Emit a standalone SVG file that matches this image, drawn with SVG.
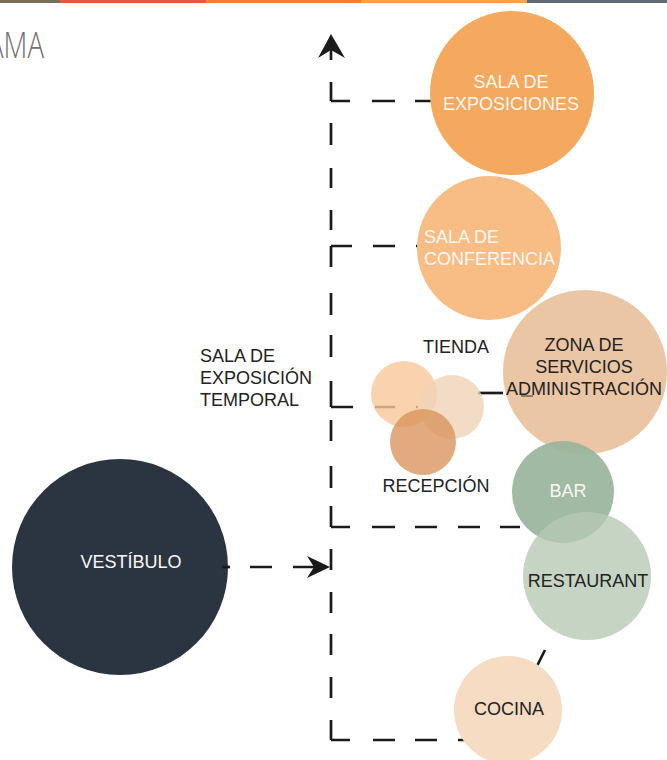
<svg xmlns="http://www.w3.org/2000/svg" width="667" height="760" viewBox="0 0 667 760">
<style>
  .lbl { font-family: "Liberation Sans", Arial, sans-serif; font-size: 18px; }
  .w { fill: #fbf7f2; }
  .d { fill: #222222; }
  .mid { text-anchor: middle; }
  .ln { fill: none; stroke: #1b1b1b; stroke-width: 2.7; stroke-linecap: butt; }
  .head { fill: #1b1b1b; }
</style>
<rect width="667" height="760" fill="#ffffff"/>
<g id="topbar">
  <rect x="0" y="0" width="60" height="3" fill="#7a6e58"/>
  <rect x="60" y="0" width="146" height="3" fill="#e8563f"/>
  <rect x="206" y="0" width="155" height="3" fill="#f07f3c"/>
  <rect x="361" y="0" width="166" height="3" fill="#f5a24c"/>
  <rect x="527" y="0" width="140" height="3" fill="#5f6b73"/>
</g>
<text x="-13" y="58" font-family="'Open Sans', 'Liberation Sans', sans-serif" font-weight="300" font-size="37" fill="#707070" textLength="57" lengthAdjust="spacingAndGlyphs">AMA</text>

<g id="connectors">
  <path class="ln" d="M331,82V101 M331,123V145 M331,168V188 M331,210V230 M331,246V267 M331,293V315 M331,335V357 M331,381V407 M331,420V441 M331,466V488 M331,506V527 M331,549V570 M331,592V613 M331,634V655 M331,677V698 M331,720V740"/>
  <path class="ln" d="M331,101H350 M372,101H395 M415,101H432"/>
  <path class="ln" d="M331,246H352 M373,246H395 M416,246H418"/>
  <path class="ln" d="M331,407H353 M375,407H395 M416,407H418"/>
  <path class="ln" d="M478,393H503"/>
  <path class="ln" d="M331,527H350 M372,527H395 M415,527H437 M458,527H480 M500,527H520"/>
  <path class="ln" d="M331,740H350 M373,740H395 M415,740H437 M458,740H480"/>
  <path class="ln" d="M250,567H272 M293,567H315"/>
  <path class="head" d="M330,567 L307,556 L314,567 L307,578 Z"/>
  <path class="ln" d="M331,50V60"/>
  <path class="head" d="M331,34 L345,58 L331,50 L318,58 Z"/>
  <path class="ln" d="M545,650L536,668"/>
</g>

<g id="sala-exposiciones">
  <circle cx="512" cy="93" r="82" fill="#f4a95e"/>
  <text class="lbl w mid" x="511" y="88" font-size="17">SALA DE</text>
  <text class="lbl w mid" x="511" y="110" font-size="17">EXPOSICIONES</text>
</g>
<g id="sala-conferencia">
  <circle cx="489" cy="248" r="72" fill="#f7bd85"/>
  <text class="lbl w" x="424" y="243">SALA DE</text>
  <text class="lbl w" x="424" y="265">CONFERENCIA</text>
</g>
<g id="zona-servicios">
  <circle cx="585" cy="372" r="82" fill="#e8c19c" fill-opacity="0.92"/>
  <path d="M521,396H533" stroke="#8c7c6c" stroke-width="2" fill="none"/>
  <text class="lbl d mid" x="584" y="351">ZONA DE</text>
  <text class="lbl d mid" x="584" y="373">SERVICIOS</text>
  <text class="lbl d mid" x="584" y="395">ADMINISTRACIÓN</text>
</g>
<g id="sala-exposicion-temporal">
  <circle cx="404" cy="394" r="33" fill="#f7c89a" fill-opacity="0.8"/>
  <text class="lbl d" x="200" y="362">SALA DE</text>
  <text class="lbl d" x="200" y="384">EXPOSICIÓN</text>
  <text class="lbl d" x="200" y="406">TEMPORAL</text>
</g>
<g id="tienda">
  <circle cx="452" cy="407" r="32" fill="#efd3b6" fill-opacity="0.8"/>
  <text class="lbl d mid" x="456" y="353">TIENDA</text>
</g>
<g id="recepcion">
  <circle cx="423" cy="442" r="33" fill="#d8935b" fill-opacity="0.78"/>
  <text class="lbl d mid" x="436" y="492">RECEPCIÓN</text>
</g>
<g id="bar">
  <circle cx="563" cy="492" r="51" fill="#98b49b" fill-opacity="0.92"/>
  <text class="lbl w mid" x="568" y="497">BAR</text>
</g>
<g id="restaurant">
  <circle cx="587" cy="576" r="64" fill="#b6c8b3" fill-opacity="0.78"/>
  <text class="lbl d mid" x="588" y="587">RESTAURANT</text>
</g>
<g id="cocina">
  <circle cx="508" cy="710" r="54" fill="#f5dcc3"/>
  <text class="lbl d mid" x="509" y="715">COCINA</text>
</g>
<g id="vestibulo">
  <circle cx="120" cy="567" r="108" fill="#2b3441"/>
  <text class="lbl w mid" x="131" y="568">VESTÍBULO</text>
</g>
<path class="ln" d="M222,567H230"/>
</svg>
